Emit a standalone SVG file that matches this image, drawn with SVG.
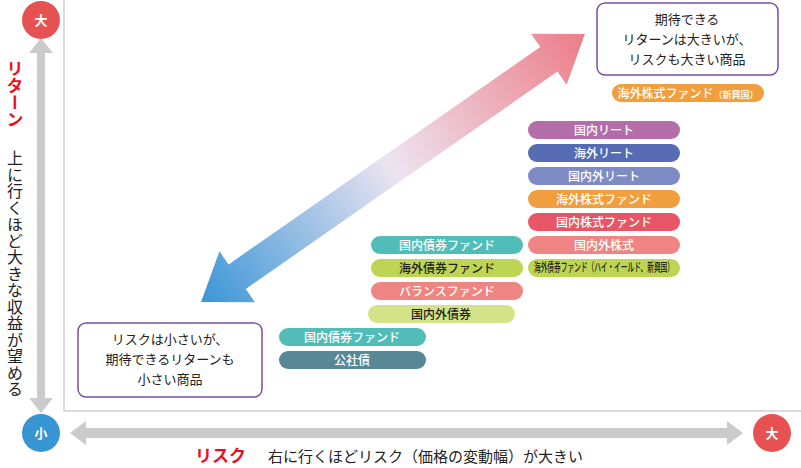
<svg xmlns="http://www.w3.org/2000/svg" width="801" height="468" viewBox="0 0 801 468">
<style>
text{font-family:"Noto Sans CJK JP","Noto Sans",sans-serif}
.p{font-size:12px;fill:#fff;text-anchor:middle;font-weight:500}
.pk{font-size:12px;fill:#222;text-anchor:middle;font-weight:500}
.b{font-size:13px;fill:#222;text-anchor:middle}
.c{font-size:13px;fill:#fff;text-anchor:middle;font-weight:bold}
.box{fill:#fff;stroke:#7d4fa0;stroke-width:1.5}
</style>
<defs>
<linearGradient id="g" x1="0" y1="0" x2="1" y2="0">
<stop offset="0" stop-color="#3b95d8"/><stop offset="0.5" stop-color="#ece4f0"/><stop offset="1" stop-color="#ec7d88"/>
</linearGradient>
</defs>
<rect width="801" height="468" fill="#fff"/>
<g id="axes" stroke="#d0d0d0" stroke-width="1.5" fill="none">
<path d="M64 0V411H801"/>
</g>
<g id="connectors">
<path d="M41 38L53 53H45V398H53L41 413L29 398H37V53H29Z" fill="#cbcbcb"/>
<path d="M70 433L86 421V428H727V421L743 433L727 445V438H86V445Z" fill="#cbcbcb"/>
<g transform="translate(393,168) rotate(-34.9)">
<path d="M-234 0L-190 -31V-15H190V-31L234 0L190 31V15H-190V31Z" fill="url(#g)"/>
</g>
</g>
<g id="c-top"><circle cx="41" cy="20" r="19" fill="#e65252"/><text class="c" x="41" y="25">大</text></g>
<g id="c-small"><circle cx="41" cy="433" r="19" fill="#3895d3"/><text class="c" x="41" y="438">小</text></g>
<g id="c-right"><circle cx="772" cy="433" r="19" fill="#e65252"/><text class="c" x="772" y="438">大</text></g>
<g id="ylabel">
<text x="15" y="60" style="writing-mode:vertical-rl;font-size:17px;font-weight:bold;fill:#e8101e">リターン</text>
<text x="15" y="150" style="writing-mode:vertical-rl;font-size:16px;fill:#222;letter-spacing:0.5px">上に行くほど大きな収益が望める</text>
</g>
<g id="xlabel">
<text x="195" y="462" style="font-size:17px;font-weight:bold;fill:#e8101e">リスク</text>
<text x="268" y="462" style="font-size:15px;fill:#222">右に行くほどリスク（価格の変動幅）が大きい</text>
</g>
<g id="box-top"><rect class="box" x="597" y="3" width="181" height="72" rx="8"/>
<text class="b" x="687" y="24">期待できる</text><text class="b" x="687" y="44">リターンは大きいが、</text><text class="b" x="687" y="64">リスクも大きい商品</text></g>
<g id="box-bottom"><rect class="box" x="78" y="323" width="184" height="74" rx="8"/>
<text class="b" x="170" y="344">リスクは小さいが、</text><text class="b" x="170" y="364">期待できるリターンも</text><text class="b" x="170" y="384">小さい商品</text></g>
<g id="n0"><rect x="612" y="84" width="152" height="18" rx="9" fill="#f19f3e"/><text class="p" x="688" y="97.5">海外株式ファンド<tspan font-size="9">（新興国）</tspan></text></g>
<g id="n1"><rect x="528" y="121" width="152" height="18" rx="9" fill="#b36ea9"/><text class="p" x="604" y="134.5">国内リート</text></g>
<g id="n2"><rect x="528" y="144" width="152" height="18" rx="9" fill="#566bb4"/><text class="p" x="604" y="157.5">海外リート</text></g>
<g id="n3"><rect x="528" y="167" width="152" height="18" rx="9" fill="#7f8bc4"/><text class="p" x="604" y="180.5">国内外リート</text></g>
<g id="n4"><rect x="528" y="190" width="152" height="18" rx="9" fill="#f19f3e"/><text class="p" x="604" y="203.5">海外株式ファンド</text></g>
<g id="n5"><rect x="528" y="213" width="152" height="18" rx="9" fill="#e85566"/><text class="p" x="604" y="226.5">国内株式ファンド</text></g>
<g id="n6"><rect x="528" y="236" width="152" height="18" rx="9" fill="#ee8582"/><text class="p" x="604" y="249.5">国内外株式</text></g>
<g id="n7"><rect x="528" y="259" width="152" height="18" rx="9" fill="#bdd552"/><text class="pk" x="604" y="272" font-size="10" textLength="140" lengthAdjust="spacingAndGlyphs">海外債券ファンド（ハイ・イールド、新興国）</text></g>
<g id="n8"><rect x="371" y="236" width="152" height="18" rx="9" fill="#52bdb8"/><text class="p" x="447" y="249.5">国内債券ファンド</text></g>
<g id="n9"><rect x="371" y="259" width="152" height="18" rx="9" fill="#bdd552"/><text class="pk" x="447" y="272.5">海外債券ファンド</text></g>
<g id="n10"><rect x="371" y="282" width="152" height="18" rx="9" fill="#ee8582"/><text class="p" x="447" y="295.5">バランスファンド</text></g>
<g id="n11"><rect x="368" y="305" width="147" height="18" rx="9" fill="#d4e387"/><text class="pk" x="441" y="318.5">国内外債券</text></g>
<g id="n12"><rect x="279" y="328" width="147" height="18" rx="9" fill="#52bdb8"/><text class="p" x="352" y="341.5">国内債券ファンド</text></g>
<g id="n13"><rect x="279" y="351" width="147" height="18" rx="9" fill="#588896"/><text class="p" x="352" y="364.5">公社債</text></g>
</svg>
